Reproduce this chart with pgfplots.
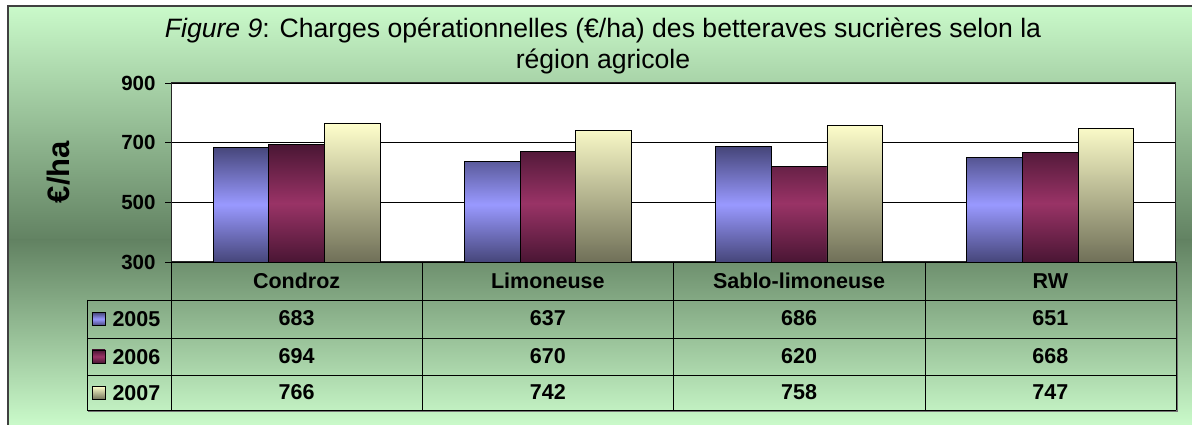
\documentclass[border=0pt]{standalone}
\usepackage{pgfplots}
\pgfplotsset{compat=1.18}
\usepackage{pgfplotstable}
\usepackage{fontspec}
\setmainfont{Liberation Sans}
\definecolor{bglight}{RGB}{202,250,202}
\definecolor{bgdark}{RGB}{98,130,98}
\definecolor{bluedark}{RGB}{70,70,122}
\definecolor{bluelight}{RGB}{153,153,255}
\definecolor{mardark}{RGB}{74,22,52}
\definecolor{marlight}{RGB}{153,51,102}
\definecolor{creamtop}{RGB}{255,255,204}
\definecolor{creambot}{RGB}{112,112,88}

\pgfplotstableread{
x a b c
0 683 694 766
1 637 670 742
2 686 620 758
3 651 668 747
}\data

\begin{document}
\begin{tikzpicture}[x=1pt,y=1pt]
\path[use as bounding box] (0,0) rectangle (1192,425);
\fill[white] (0,0) rectangle (1192,425);
\shade[top color=bglight, bottom color=bgdark] (8,184.5) rectangle (1192,419);
\shade[top color=bgdark, bottom color=bglight] (8,0) rectangle (1192,185);
\draw[black!75, line width=1.5pt] (8,0) -- (8,419) -- (1192,419);

% title
\node[anchor=base, font=\fontsize{26.6}{31}\selectfont] at (603,387)
  {\textit{Figure 9}: Charges opérationnelles (€/ha) des betteraves sucrières selon la};
\node[anchor=base, font=\fontsize{26.6}{31}\selectfont] at (603,356) {région agricole};

% y label
\node[rotate=90, font=\fontsize{31}{36}\selectfont\bfseries] at (59,253) {€/ha};

\begin{axis}[
  at={(171pt,163pt)}, anchor=south west,
  scale only axis, width=1005pt, height=179pt,
  xmin=-0.5, xmax=3.5, ymin=0, ymax=600,
  xtick=\empty,
  ytick={0,200,400,600},
  yticklabels={\textbf{300},\textbf{500},\textbf{700},\textbf{900}},
  yticklabel style={font=\fontsize{20.5}{24}\selectfont\bfseries, xshift=-6pt},
  /pgf/number format/assume math mode=true,
  ytick pos=left, tick align=outside, major tick length=6pt,
  tick style={black, line width=0.9pt},
  ymajorgrids, grid style={black, line width=0.9pt},
  axis line style={black!85, line width=1pt},
  axis background/.style={fill=white},
]
\addplot[ybar, bar width=0.2216, bar shift=-0.2216, draw=black, line width=0.8pt,
  top color=bluedark, bottom color=bluedark, middle color=bluelight]
  table[x=x, y expr=\thisrow{a}-300]{\data};
\addplot[ybar, bar width=0.2216, bar shift=0, draw=black, line width=0.8pt,
  top color=mardark, bottom color=mardark, middle color=marlight]
  table[x=x, y expr=\thisrow{b}-300]{\data};
\addplot[ybar, bar width=0.2216, bar shift=0.2216, draw=black, line width=0.8pt,
  top color=creamtop, bottom color=creambot]
  table[x=x, y expr=\thisrow{c}-300]{\data};
\end{axis}

% data table
\draw[black!55, line width=1.6pt] (88,14) -- (1177,14) -- (1177,163);
\begin{scope}[line width=0.9pt]
\foreach \xx in {171,422,673,925,1176} \draw (\xx,163) -- (\xx,15);
\foreach \yy in {125,87,50,15} \draw (87,\yy) -- (1176,\yy);
\draw (87,125) -- (87,15);
\end{scope}
\begin{scope}[every node/.style={font=\fontsize{21.5}{25}\selectfont\bfseries}]
\node at (296.6,144) {Condroz};
\node at (547.8,144) {Limoneuse};
\node at (799.1,144) {Sablo-limoneuse};
\node at (1050.4,144) {RW};
\node at (296.6,107) {683}; \node at (547.8,107) {637}; \node at (799.1,107) {686}; \node at (1050.4,107) {651};
\node at (296.6,69) {694}; \node at (547.8,69) {670}; \node at (799.1,69) {620}; \node at (1050.4,69) {668};
\node at (296.6,33) {766}; \node at (547.8,33) {742}; \node at (799.1,33) {758}; \node at (1050.4,33) {747};
\node[anchor=west] at (109,105.5) {2005};
\node[anchor=west] at (109,68) {2006};
\node[anchor=west] at (109,31.5) {2007};
\end{scope}
\shade[draw=black, line width=0.6pt, top color=bluedark, bottom color=bluedark, middle color=bluelight] (92,99.5) rectangle (105,112.5);
\shade[draw=black, line width=0.6pt, top color=mardark, bottom color=mardark, middle color=marlight] (92,62) rectangle (105,75);
\shade[draw=black, line width=0.6pt, top color=creamtop, bottom color=creambot] (92,25.5) rectangle (105,38.5);
\end{tikzpicture}
\end{document}
